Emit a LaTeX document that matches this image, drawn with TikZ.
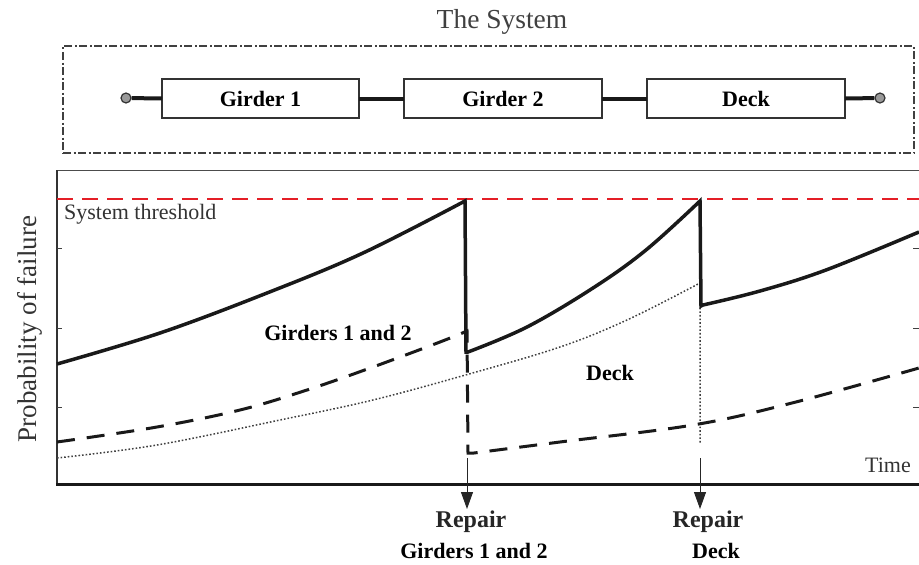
\documentclass[tikz,border=0pt]{standalone}
\usepackage{fontspec}
\setmainfont{Liberation Serif}
\usetikzlibrary{arrows.meta}
\begin{document}
\begin{tikzpicture}[x=1pt,y=-1pt,
  bl/.style={font=\fontsize{22}{26}\selectfont\bfseries, text=black, inner sep=0pt},
  blr/.style={font=\fontsize{24}{28}\selectfont\bfseries, text=black!85, inner sep=0pt},
  rl/.style={font=\fontsize{22}{26}\selectfont, text=black!80, inner sep=0pt},
  comp/.style={draw=black!80, line width=1.2pt, minimum height=39pt, inner sep=0pt, outer sep=0pt, font=\fontsize{22}{26}\selectfont\bfseries},
  term/.style={circle, draw=black!80, fill=black!40, line width=1.2pt, minimum size=10pt, inner sep=0pt},
  wire/.style={line width=4pt, draw=black!90},
  sysbox/.style={draw=black!75, line width=1.2pt, dash pattern=on 8pt off 2.5pt on 2pt off 2.5pt, minimum width=851pt, minimum height=107pt, inner sep=0pt},
  syscurve/.style={line width=3.5pt, black!90, line join=miter},
  girdcurve/.style={line width=3pt, black!90, dash pattern=on 18pt off 12pt},
  deckcurve/.style={line width=1.5pt, black!75, dash pattern=on 1.6pt off 2pt},
  thresh/.style={line width=2.6pt, draw={rgb,255:red,228;green,30;blue,38}, dash pattern=on 16pt off 9pt},
  rep/.style={line width=1pt, black!85, -{Triangle[length=17pt,width=12pt]}},
  tick/.style={line width=1pt, black!75}
]
\useasboundingbox (0,0) rectangle (919,565);

% title and system block diagram
\node[font=\fontsize{27.5}{32}\selectfont, text=black!75, inner sep=0pt] (title) at (502,22) {The System};
\node[sysbox] (sys) at (488.5,99.5) {};
\node[comp, minimum width=197pt] (g1) at (260.5,98.5) {Girder 1};
\node[comp, minimum width=198pt] (g2) at (503,98.5) {Girder 2};
\node[comp, minimum width=198pt] (dk) at (746,98.5) {Deck};
\node[term] (t1) at (126,98) {};
\node[term] (t2) at (880,98) {};
\draw[wire] (t1) -- (g1.west);
\draw[wire] (g1.east) -- (g2.west);
\draw[wire] (g2.east) -- (dk.west);
\draw[wire] (dk.east) -- (t2);

% plot frame
\draw[line width=1pt, black!70] (57,170) -- (919,170);
\draw[line width=1.5pt, black!80] (57,170) -- (57,484);
\draw[line width=3pt, black!90] (56,484) -- (919,484);
\foreach \yy in {248,328,407} {
  \draw[tick] (57,\yy) -- (62,\yy);
  \draw[tick] (913,\yy) -- (919,\yy);
}
\node[font=\fontsize{27}{32}\selectfont, text=black!80, rotate=90, inner sep=0pt] (ylab) at (30,329) {Probability of failure};

% threshold
\draw[thresh] (57,199) -- (919,199);
\node[rl, anchor=west] (thr) at (64,214) {System threshold};

% deck curve (dotted)
\draw[deckcurve] plot[smooth, tension=0.6] coordinates {(57,458) (157,445) (280,420) (373,400) (469,374) (560,347) (627,320) (700,283)} -- (700,443);

% girders curve (dashed)
\draw[girdcurve] plot[smooth, tension=0.6] coordinates {(57,442) (157,427) (240,410) (307,390) (373,367) (440,342) (467,331)} -- (468,453) -- plot[smooth, tension=0.6] coordinates {(474,453) (560,442) (693,425) (792,403) (919,368)};

% system curve (solid)
\draw[syscurve] plot[smooth, tension=0.6] coordinates {(57,364) (160,333) (267,293) (363,253) (465,201)} -- (466,352) -- plot[smooth, tension=0.6] coordinates {(468,352) (527,327) (593,288) (646,250) (700,201)} -- (701,306) -- plot[smooth, tension=0.6] coordinates {(703,305) (760,291) (826,270) (919,232)};

% in-plot labels
\node[bl] (lg) at (338,333) {Girders 1 and 2};
\node[bl] (ld) at (610,373) {Deck};
\node[rl] (time) at (888,465) {Time};

% repair arrows
\coordinate (ra1) at (467,458);
\coordinate (rb1) at (467,509);
\coordinate (ra2) at (700,458);
\coordinate (rb2) at (700,509);
\draw[rep] (ra1) -- (rb1);
\draw[rep] (ra2) -- (rb2);
\node[blr] (rp1) at (471,522) {Repair};
\node[bl] (rg) at (474,551) {Girders 1 and 2};
\node[blr] (rp2) at (708,522) {Repair};
\node[bl] (rd) at (716,551) {Deck};
\end{tikzpicture}
\end{document}
